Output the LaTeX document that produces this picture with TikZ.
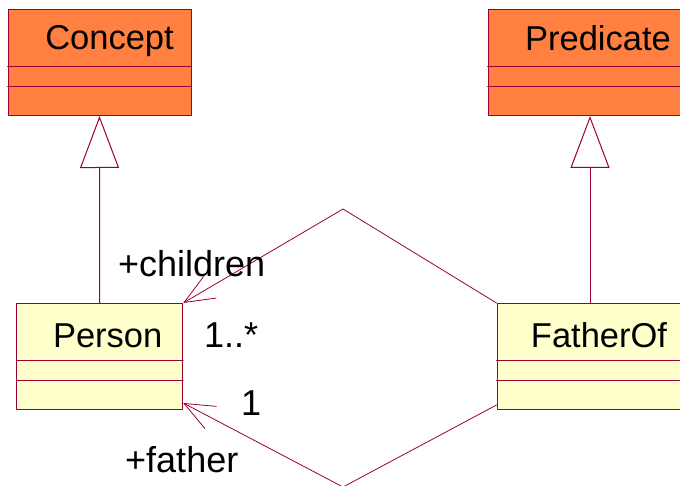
\documentclass[tikz,border=0pt]{standalone}
\usepackage{fontspec}
\setmainfont{Liberation Sans}
\usetikzlibrary{arrows.meta,calc,positioning}
\definecolor{roseline}{RGB}{153,0,51}
\definecolor{roseorange}{RGB}{255,128,64}
\definecolor{roseyellow}{RGB}{255,255,204}
\tikzset{
  every picture/.append style={line cap=round,line join=round},
  uml class/.style={draw=roseline,line width=1pt,minimum height=106pt,inner sep=0pt},
  uml name/.style={font=\fontsize{34.5}{40}\selectfont,anchor=base,inner sep=0pt},
  uml role/.style={font=\fontsize{36}{42}\selectfont,anchor=base west,inner sep=0pt},
  uml divider/.style={roseline,line width=0.8pt},
  uml generalization/.style={roseline,line width=1pt,-{Triangle[open,length=52pt,width=39pt]}},
  uml association/.style={roseline,line width=0.8pt,-{Straight Barb[length=30pt,width=25pt]}}
}

\begin{document}
\begin{tikzpicture}[x=1pt,y=1pt]
\useasboundingbox (0,0) rectangle (680,485);
% class boxes
\node[uml class,fill=roseorange,minimum width=183pt] (concept) at (99.5,422.5) {};
\node[uml class,fill=roseorange,minimum width=204pt] (predicate) at (590,422.5) {};
\node[uml class,fill=roseyellow,minimum width=166pt] (person) at (99.7,128.5) {};
\node[uml class,fill=roseyellow,minimum width=186pt] (fatherof) at (590,128.5) {};
% class names
\node[uml name] (concept name) at ($(concept.north)+(10,-41)$) {Concept};
\node[uml name] (predicate name) at ($(predicate.north)+(8,-42)$) {Predicate};
\node[uml name] (person name) at ($(person.north)+(8,-44)$) {Person};
\node[uml name] (fatherof name) at ($(fatherof.north)+(9,-44)$) {FatherOf};
% attribute and operation compartments
\foreach \c in {concept,predicate,person,fatherof} {
  \draw[uml divider] ($(\c.north west)+(0,-57)$) -- ($(\c.north east)+(0,-57)$);
  \draw[uml divider] ($(\c.north west)+(0,-77.5)$) -- ($(\c.north east)+(0,-77.5)$);
}
% generalizations
\draw[uml generalization] (person.north) -- (concept.south);
\draw[uml generalization] (fatherof.north) -- (predicate.south);
% associations
\coordinate (children bend) at (343,276);
\coordinate (father bend) at (343,-2);
\draw[uml association] (fatherof.north west) -- (children bend) -- (person.north east);
\draw[uml association] ($(fatherof.south west)+(0,5)$) -- (father bend) -- ($(person.south east)+(0,7)$);
% roles and multiplicities
\node[uml role] (children role) at (118,208) {+children};
\node[uml role] (children mult) at (204,138) {1..*};
\node[uml role] (father mult) at (241,70) {1};
\node[uml role] (father role) at (125,13) {+father};
\end{tikzpicture}
\end{document}
